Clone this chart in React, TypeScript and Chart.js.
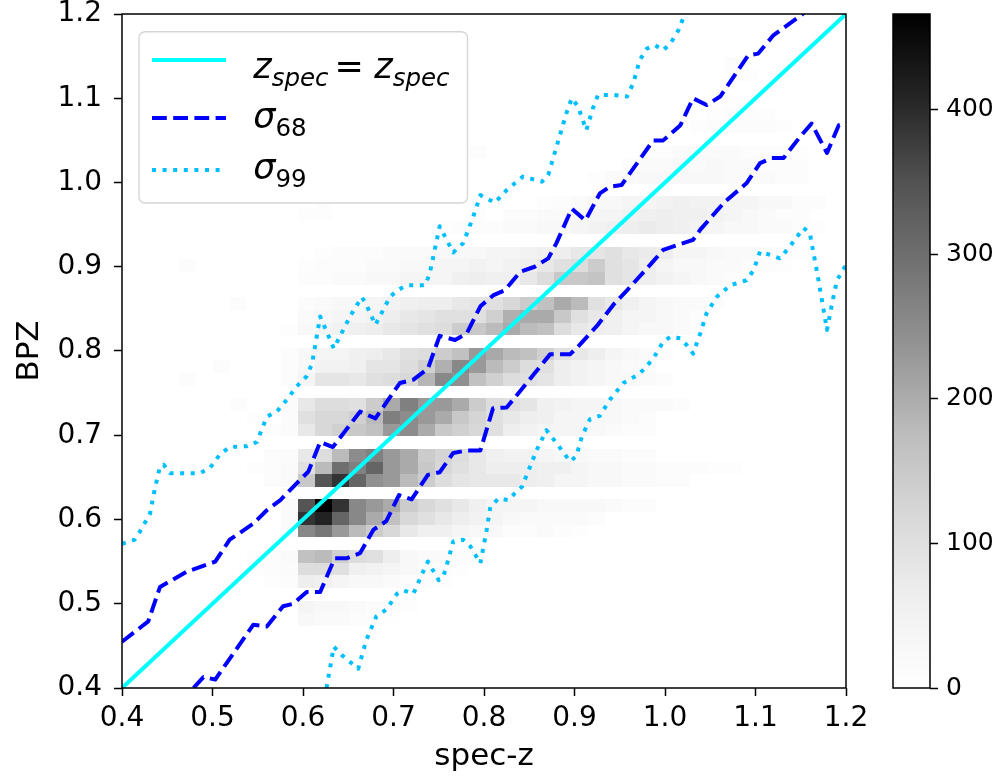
import React, { useEffect, useRef } from "react";
import { Chart, registerables } from "chart.js";

Chart.register(...registerables);

const FONT = '"DejaVu Sans", "Liberation Sans", sans-serif';

// ---------------- axis / tick data ----------------
const xTicks = [0.4, 0.5, 0.6, 0.7, 0.8, 0.9, 1.0, 1.1, 1.2];
const yTicks = [0.4, 0.5, 0.6, 0.7, 0.8, 0.9, 1.0, 1.1, 1.2];
const cbTicks = [0, 100, 200, 300, 400];
const xLabel = "spec-z";
const yLabel = "BPZ";

// ---------------- 2D histogram (counts) ----------------
// bin grid: first x edge, x bin width, first y edge, y bin height
const histX0 = 0.44424;
const histDX = 0.01882;
const histY0 = 0.4738;
const histDY = 0.015;
// rows from bottom (BPZ 0.474) to top; each row starts at the first x bin
const histRows: number[][] = [
  [0, 0, 0, 0, 0, 0, 0, 0, 27, 19, 19, 12, 8, 5],
  [0, 0, 0, 0, 0, 0, 0, 0, 39, 27, 27, 19, 12, 10, 8],
  [],
  [0, 0, 0, 0, 0, 0, 8, 10, 63, 58, 39, 27, 27, 19, 12, 10, 8],
  [0, 0, 0, 0, 0, 8, 10, 14, 106, 106, 99, 58, 50, 39, 27, 12, 10, 6],
  [0, 0, 0, 0, 0, 8, 12, 18, 167, 177, 135, 106, 99, 63, 27, 19, 19, 12, 8],
  [],
  [0, 0, 0, 0, 0, 0, 0, 15, 256, 284, 228, 177, 143, 118, 78, 58, 58, 39, 27, 27, 12, 12, 19, 10, 8],
  [0, 0, 0, 0, 0, 0, 0, 20, 389, 412, 316, 256, 203, 167, 118, 99, 78, 63, 50, 39, 27, 19, 19, 19, 19, 10],
  [0, 0, 0, 0, 0, 0, 0, 18, 344, 466, 389, 256, 228, 203, 143, 118, 99, 78, 58, 39, 39, 39, 27, 27, 27, 27, 19, 12, 10],
  [],
  [0, 0, 0, 0, 0, 0, 10, 20, 152, 344, 389, 316, 243, 228, 177, 143, 106, 86, 78, 78, 78, 63, 58, 39, 39, 27, 27, 19, 19, 12, 10],
  [0, 0, 0, 0, 0, 8, 12, 20, 99, 177, 298, 269, 316, 228, 203, 152, 118, 99, 78, 63, 63, 63, 58, 58, 39, 27, 27, 19, 19, 12, 12, 12, 8, 6],
  [0, 0, 0, 0, 0, 0, 10, 15, 78, 106, 177, 250, 269, 228, 203, 143, 125, 106, 78, 58, 50, 50, 39, 27, 27, 19, 19, 12, 10],
  [],
  [0, 0, 0, 0, 0, 0, 8, 15, 78, 118, 135, 152, 167, 228, 250, 203, 152, 135, 118, 99, 63, 50, 39, 39, 39, 27, 19, 12, 10],
  [0, 0, 0, 0, 0, 8, 0, 15, 99, 118, 118, 135, 177, 272, 250, 228, 203, 152, 125, 99, 78, 63, 58, 39, 39, 27, 27, 19, 12],
  [0, 0, 0, 0, 10, 0, 0, 15, 78, 106, 106, 99, 143, 203, 269, 228, 228, 203, 143, 106, 99, 86, 58, 50, 39, 39, 27, 19, 19, 19, 12],
  [],
  [0, 10, 0, 0, 0, 0, 0, 12, 39, 86, 86, 78, 99, 106, 118, 185, 256, 243, 167, 135, 106, 99, 86, 63, 50, 39, 27, 27, 19, 12],
  [0, 0, 0, 12, 0, 0, 0, 12, 27, 50, 50, 58, 86, 86, 106, 135, 194, 256, 228, 177, 143, 106, 99, 63, 50, 39, 27, 19, 12],
  [0, 0, 0, 0, 0, 0, 0, 10, 27, 39, 39, 58, 63, 78, 99, 106, 143, 167, 228, 205, 177, 167, 135, 99, 78, 63, 39, 27, 19, 12],
  [],
  [0, 0, 0, 0, 0, 0, 0, 8, 27, 39, 50, 58, 63, 78, 86, 99, 106, 143, 152, 177, 203, 177, 167, 106, 78, 63, 58, 39, 27, 27, 19, 12],
  [0, 0, 0, 0, 0, 0, 0, 0, 19, 27, 39, 39, 50, 63, 78, 86, 99, 99, 99, 135, 194, 203, 203, 152, 99, 78, 58, 39, 39, 27, 19, 12],
  [0, 0, 0, 0, 10, 0, 0, 0, 12, 19, 27, 27, 39, 50, 58, 63, 63, 78, 86, 99, 118, 143, 167, 203, 177, 99, 78, 58, 39, 27, 19, 19, 12],
  [],
  [0, 0, 0, 0, 0, 0, 0, 0, 12, 12, 19, 19, 27, 27, 39, 39, 39, 58, 63, 58, 58, 78, 106, 152, 152, 160, 99, 86, 63, 50, 39, 27, 19, 12],
  [0, 12, 0, 0, 0, 0, 0, 0, 8, 10, 12, 12, 19, 19, 27, 27, 39, 39, 50, 39, 50, 63, 78, 99, 106, 143, 99, 86, 63, 39, 27, 27, 19, 19, 12, 12, 8],
  [0, 0, 0, 0, 0, 0, 0, 0, 0, 8, 10, 12, 12, 19, 19, 19, 27, 27, 27, 39, 39, 50, 58, 63, 78, 86, 99, 78, 70, 63, 39, 39, 27, 19, 19, 12, 12, 8],
  [],
  [0, 0, 0, 0, 0, 0, 0, 0, 0, 0, 0, 0, 0, 0, 0, 0, 8, 10, 12, 12, 19, 19, 27, 27, 39, 50, 58, 63, 70, 63, 58, 50, 39, 27, 27, 19, 19, 12, 8],
  [0, 0, 0, 0, 0, 0, 0, 0, 8, 8, 0, 0, 0, 0, 0, 0, 0, 0, 8, 0, 10, 12, 19, 19, 27, 39, 39, 50, 58, 63, 58, 58, 50, 39, 27, 19, 12, 10],
  [0, 0, 0, 0, 0, 0, 0, 0, 0, 8, 0, 0, 0, 0, 0, 0, 0, 0, 0, 0, 0, 0, 8, 10, 19, 27, 27, 39, 39, 50, 58, 50, 50, 39, 39, 27, 27, 12, 10],
  [],
  [0, 0, 0, 0, 0, 0, 0, 0, 0, 0, 0, 0, 0, 0, 0, 0, 0, 0, 0, 0, 0, 0, 0, 0, 0, 8, 19, 19, 27, 27, 27, 27, 27, 19, 19, 19, 12, 10],
  [0, 0, 0, 0, 0, 0, 0, 0, 0, 0, 0, 0, 0, 0, 0, 0, 0, 0, 0, 0, 0, 0, 0, 0, 0, 0, 0, 12, 19, 19, 27, 19, 27, 19, 19, 12, 12, 10],
  [0, 0, 0, 0, 0, 0, 0, 0, 0, 0, 0, 0, 10, 0, 0, 0, 12, 0, 10, 0, 0, 0, 0, 0, 0, 0, 0, 0, 10, 12, 19, 19, 19, 19, 12, 12, 10, 8],
  [],
  [0, 0, 0, 0, 0, 0, 0, 0, 0, 0, 0, 10, 0, 0, 0, 0, 12, 0, 0, 0, 0, 0, 0, 0, 0, 0, 0, 0, 0, 0, 0, 8, 12, 12, 12, 10, 8],
  [0, 0, 0, 0, 0, 0, 0, 0, 0, 0, 0, 0, 0, 0, 0, 0, 0, 0, 0, 0, 0, 0, 0, 0, 0, 0, 0, 0, 0, 0, 0, 0, 8, 10, 10, 8],
  [0, 0, 0, 0, 0, 0, 0, 0, 0, 0, 0, 0, 0, 0, 0, 0, 10, 0, 0, 0, 0, 0, 0, 0, 0, 0, 0, 0, 0, 0, 0, 0, 0, 8, 8],
  [],
  [0, 0, 0, 0, 0, 0, 0, 0, 0, 0, 0, 0, 0, 0, 0, 0, 10, 8, 0, 0, 0, 0, 0, 0, 0, 0, 0, 0, 0, 0, 0, 0, 0, 8, 6],
  [0, 0, 0, 0, 0, 0, 0, 0, 0, 0, 0, 0, 0, 0, 0, 0, 0, 0, 0, 0, 0, 0, 0, 0, 0, 0, 0, 0, 0, 0, 0, 0, 0, 10],
];

// ---------------- line series ----------------
const diagX = [0.4, 1.2];
const diagY = [0.4, 1.2];

const sig68UpX = [0.400, 0.429, 0.442, 0.4715, 0.503, 0.519, 0.545, 0.560, 0.575, 0.593, 0.606, 0.619, 0.633, 0.663, 0.680, 0.707, 0.722, 0.738, 0.751, 0.768, 0.781, 0.796, 0.810, 0.823, 0.840, 0.856, 0.871, 0.880, 0.897, 0.912, 0.928, 0.939, 0.952, 0.987, 0.998, 1.017, 1.031, 1.046, 1.061, 1.092, 1.103, 1.120, 1.151, 1.175, 1.200];
const sig68UpY = [0.455, 0.479, 0.520, 0.538, 0.550, 0.576, 0.595, 0.611, 0.623, 0.643, 0.657, 0.692, 0.686, 0.728, 0.720, 0.762, 0.766, 0.779, 0.818, 0.813, 0.821, 0.853, 0.866, 0.872, 0.894, 0.900, 0.910, 0.928, 0.969, 0.955, 0.987, 0.995, 0.997, 1.050, 1.050, 1.068, 1.100, 1.092, 1.102, 1.151, 1.153, 1.175, 1.199, 1.225, 1.250];

const sig68LoX = [0.465, 0.479, 0.490, 0.503, 0.545, 0.560, 0.578, 0.589, 0.604, 0.619, 0.635, 0.648, 0.663, 0.678, 0.692, 0.706, 0.720, 0.738, 0.751, 0.766, 0.781, 0.796, 0.810, 0.825, 0.832, 0.873, 0.895, 0.902, 0.925, 0.943, 0.958, 0.985, 0.998, 1.031, 1.039, 1.066, 1.090, 1.105, 1.118, 1.131, 1.149, 1.162, 1.179, 1.192, 1.201];
const sig68LoY = [0.380, 0.400, 0.413, 0.410, 0.475, 0.473, 0.497, 0.500, 0.514, 0.514, 0.554, 0.554, 0.560, 0.588, 0.598, 0.629, 0.624, 0.653, 0.656, 0.679, 0.682, 0.682, 0.732, 0.733, 0.742, 0.796, 0.796, 0.803, 0.830, 0.855, 0.872, 0.904, 0.920, 0.932, 0.944, 0.977, 0.999, 1.023, 1.029, 1.029, 1.054, 1.070, 1.035, 1.068, 1.070];

const sig99UpX = [0.400, 0.414, 0.420, 0.431, 0.436, 0.442, 0.446, 0.453, 0.486, 0.497, 0.508, 0.519, 0.538, 0.549, 0.560, 0.571, 0.582, 0.593, 0.604, 0.610, 0.619, 0.634, 0.652, 0.665, 0.670, 0.680, 0.696, 0.704, 0.715, 0.735, 0.740, 0.751, 0.766, 0.777, 0.788, 0.796, 0.812, 0.825, 0.843, 0.864, 0.871, 0.877, 0.891, 0.897, 0.904, 0.913, 0.921, 0.926, 0.943, 0.958, 0.965, 0.972, 0.980, 0.989, 0.998, 1.006, 1.015, 1.020, 1.035];
const sig99UpY = [0.571, 0.576, 0.586, 0.607, 0.635, 0.663, 0.665, 0.655, 0.655, 0.661, 0.677, 0.686, 0.687, 0.692, 0.722, 0.728, 0.742, 0.758, 0.770, 0.785, 0.841, 0.803, 0.841, 0.864, 0.855, 0.831, 0.864, 0.872, 0.878, 0.878, 0.892, 0.948, 0.917, 0.928, 0.959, 0.985, 0.976, 0.991, 1.007, 1.001, 1.009, 1.031, 1.082, 1.100, 1.090, 1.062, 1.090, 1.104, 1.104, 1.102, 1.118, 1.145, 1.159, 1.163, 1.157, 1.165, 1.181, 1.195, 1.230];

const sig99LoX = [0.598, 0.605, 0.615, 0.626, 0.634, 0.643, 0.661, 0.670, 0.681, 0.692, 0.704, 0.711, 0.722, 0.731, 0.738, 0.750, 0.755, 0.761, 0.766, 0.777, 0.785, 0.796, 0.803, 0.807, 0.816, 0.827, 0.834, 0.842, 0.851, 0.858, 0.869, 0.882, 0.895, 0.902, 0.908, 0.917, 0.928, 0.939, 0.954, 0.972, 0.987, 0.998, 1.006, 1.017, 1.024, 1.031, 1.035, 1.039, 1.046, 1.057, 1.072, 1.090, 1.098, 1.105, 1.116, 1.127, 1.138, 1.153, 1.160, 1.169, 1.179, 1.184, 1.190, 1.201];
const sig99LoY = [0.370, 0.403, 0.370, 0.400, 0.449, 0.439, 0.423, 0.457, 0.485, 0.493, 0.512, 0.516, 0.512, 0.534, 0.550, 0.528, 0.532, 0.554, 0.574, 0.576, 0.568, 0.548, 0.588, 0.615, 0.625, 0.623, 0.631, 0.639, 0.663, 0.682, 0.706, 0.688, 0.669, 0.675, 0.698, 0.719, 0.723, 0.742, 0.762, 0.773, 0.791, 0.811, 0.817, 0.815, 0.807, 0.797, 0.809, 0.821, 0.845, 0.864, 0.878, 0.884, 0.896, 0.918, 0.914, 0.910, 0.924, 0.946, 0.940, 0.888, 0.825, 0.853, 0.884, 0.904];

// legend labels (mathtext-like parts: [text, kind]) kind: i=italic, s=subscript, op=operator
const legendLabels: [string, string][][] = [
  [["z", "i"], ["spec", "is"], ["=", "op"], ["z", "i"], ["spec", "is"]],
  [["σ", "i"], ["68", "s"]],
  [["σ", "i"], ["99", "s"]],
];

// ---------------- styling ----------------
const GREYS = [255, 240, 217, 189, 150, 115, 82, 37, 0];
function greyAt(t: number) {
  const tt = Math.max(0, Math.min(1, t));
  const p = tt * 8;
  const i = Math.min(7, Math.floor(p));
  const f = p - i;
  const g = Math.round(GREYS[i] + (GREYS[i + 1] - GREYS[i]) * f);
  return `rgb(${g},${g},${g})`;
}

const lineStyles = [
  { color: "#00ffff", dash: [] as number[], width: 4 },
  { color: "#0000ff", dash: [14.8, 6.4], width: 4 },
  { color: "#00bfff", dash: [4, 6.6], width: 4 },
];

function pts(xs: number[], ys: number[]) {
  return xs.map((x, i) => ({ x, y: ys[i] }));
}

function drawMath(ctx: CanvasRenderingContext2D, parts: [string, string][], x: number, base: number, F: number) {
  let cx = x;
  ctx.textBaseline = "alphabetic";
  ctx.textAlign = "left";
  ctx.fillStyle = "#000";
  for (const [t, kind] of parts) {
    if (kind === "op") {
      cx += 0.17 * F;
      ctx.font = `${F}px ${FONT}`;
      ctx.fillText(t, cx, base);
      cx += ctx.measureText(t).width + 0.3 * F;
      continue;
    }
    const sub = kind.includes("s");
    const it = kind.includes("i");
    const size = sub ? F * 0.7 : F;
    ctx.font = `${it ? "italic " : ""}${size}px ${FONT}`;
    ctx.fillText(t, cx, sub ? base + 0.22 * F : base);
    cx += ctx.measureText(t).width;
  }
}

export default function App() {
  const mainRef = useRef<HTMLCanvasElement>(null);
  const cbRef = useRef<HTMLCanvasElement>(null);

  useEffect(() => {
    const vmax = Math.max(...histRows.flat());

    const heatmapPlugin = {
      id: "heatmap",
      beforeDatasetsDraw(chart: any) {
        const { ctx, chartArea, scales } = chart;
        const xs = scales.x;
        const ys = scales.y;
        ctx.save();
        ctx.beginPath();
        ctx.rect(chartArea.left, chartArea.top, chartArea.right - chartArea.left, chartArea.bottom - chartArea.top);
        ctx.clip();
        histRows.forEach((row, r) => {
          const yb = histY0 + r * histDY;
          const py0 = Math.round(ys.getPixelForValue(yb + histDY));
          const py1 = Math.round(ys.getPixelForValue(yb));
          row.forEach((c, k) => {
            if (!c) return;
            const xb = histX0 + k * histDX;
            const px0 = Math.round(xs.getPixelForValue(xb));
            const px1 = Math.round(xs.getPixelForValue(xb + histDX));
            ctx.fillStyle = greyAt(c / vmax);
            ctx.fillRect(px0, py0, px1 - px0, py1 - py0);
          });
        });
        ctx.restore();
      },
      afterDatasetsDraw(chart: any) {
        const { ctx, chartArea } = chart;
        const { left, top, right, bottom } = chartArea;
        ctx.save();
        ctx.strokeStyle = "#000";
        ctx.lineWidth = 1.5;
        ctx.strokeRect(left, top, right - left, bottom - top);

        // legend
        const F = 35;
        const lx = left + 17, ly = top + 17.7, lw = 328.5, lh = 171.3, rad = 6;
        ctx.beginPath();
        ctx.moveTo(lx + rad, ly);
        ctx.arcTo(lx + lw, ly, lx + lw, ly + lh, rad);
        ctx.arcTo(lx + lw, ly + lh, lx, ly + lh, rad);
        ctx.arcTo(lx, ly + lh, lx, ly, rad);
        ctx.arcTo(lx, ly, lx + lw, ly, rad);
        ctx.closePath();
        ctx.fillStyle = "rgba(255,255,255,0.8)";
        ctx.fill();
        ctx.strokeStyle = "rgba(204,204,204,0.8)";
        ctx.lineWidth = 1.4;
        ctx.stroke();

        const handleY = [28.3, 86.3, 138.3];
        const textBase = [46.6, 96.6, 147.3];
        legendLabels.forEach((parts, i) => {
          const st = lineStyles[i];
          ctx.beginPath();
          ctx.setLineDash(st.dash);
          ctx.lineCap = "butt";
          ctx.strokeStyle = st.color;
          ctx.lineWidth = st.width;
          ctx.moveTo(lx + 13, ly + handleY[i]);
          ctx.lineTo(lx + 87, ly + handleY[i]);
          ctx.stroke();
          ctx.setLineDash([]);
          drawMath(ctx, parts, lx + 114.3, ly + textBase[i], F);
        });
        ctx.restore();
      },
    };

    const tickFont = { family: FONT, size: 28 };
    const titleFont = { family: FONT, size: 31 };

    const mkDs = (xs: number[], ys: number[], i: number, label: string) => ({
      label,
      data: pts(xs, ys),
      showLine: true,
      borderColor: lineStyles[i].color,
      backgroundColor: lineStyles[i].color,
      borderWidth: lineStyles[i].width,
      borderDash: lineStyles[i].dash,
      borderCapStyle: "butt",
      borderJoinStyle: "round",
      pointRadius: 0,
      pointHoverRadius: 0,
      tension: 0,
      fill: false,
    });

    const main = new Chart(mainRef.current as HTMLCanvasElement, {
      type: "scatter",
      data: {
        datasets: [
          mkDs(diagX, diagY, 0, "zspec = zspec"),
          mkDs(sig68UpX, sig68UpY, 1, "σ68"),
          mkDs(sig68LoX, sig68LoY, 1, "σ68 low"),
          mkDs(sig99UpX, sig99UpY, 2, "σ99"),
          mkDs(sig99LoX, sig99LoY, 2, "σ99 low"),
        ] as any,
      },
      options: {
        responsive: false,
        animation: false,
        devicePixelRatio: 1,
        layout: { padding: { left: 0, top: 14, right: 149, bottom: 0 } },
        plugins: { legend: { display: false }, tooltip: { enabled: false } },
        scales: {
          x: {
            type: "linear",
            min: 0.4,
            max: 1.2,
            afterBuildTicks: (s: any) => {
              s.ticks = xTicks.map((v) => ({ value: v }));
            },
            afterFit: (s: any) => {
              s.height = 96;
              s.paddingLeft = 0;
              s.paddingRight = 0;
            },
            ticks: {
              font: tickFont,
              color: "#000",
              padding: 6,
              maxRotation: 0,
              autoSkip: false,
              callback: (v: any) => Number(v).toFixed(1),
            },
            grid: { drawOnChartArea: false, drawTicks: true, tickLength: 8, tickWidth: 1.5, tickColor: "#000" },
            border: { display: false },
            title: { display: true, text: xLabel, font: titleFont, color: "#000", padding: { top: 0, bottom: 8 } },
          },
          y: {
            type: "linear",
            min: 0.4,
            max: 1.2,
            afterBuildTicks: (s: any) => {
              s.ticks = yTicks.map((v) => ({ value: v }));
            },
            afterFit: (s: any) => {
              s.width = 122;
              s.paddingTop = 0;
              s.paddingBottom = 0;
            },
            ticks: {
              font: tickFont,
              color: "#000",
              padding: 12,
              autoSkip: false,
              callback: (v: any) => Number(v).toFixed(1),
            },
            grid: { drawOnChartArea: false, drawTicks: true, tickLength: 8, tickWidth: 1.5, tickColor: "#000" },
            border: { display: false },
            title: { display: true, text: yLabel, font: titleFont, color: "#000", padding: { top: 11, bottom: 0 } },
          },
        },
      } as any,
      plugins: [heatmapPlugin],
    });

    const cbPlugin = {
      id: "colorbar",
      beforeDatasetsDraw(chart: any) {
        const { ctx, chartArea } = chart;
        const { left, top, right, bottom } = chartArea;
        const g = ctx.createLinearGradient(0, bottom, 0, top);
        GREYS.forEach((v, k) => g.addColorStop(k / 8, `rgb(${v},${v},${v})`));
        ctx.save();
        ctx.fillStyle = g;
        ctx.fillRect(left, top, right - left, bottom - top);
        ctx.strokeStyle = "#000";
        ctx.lineWidth = 1.5;
        ctx.strokeRect(left, top, right - left, bottom - top);
        ctx.restore();
      },
    };

    const cb = new Chart(cbRef.current as HTMLCanvasElement, {
      type: "scatter",
      data: { datasets: [] },
      options: {
        responsive: false,
        animation: false,
        devicePixelRatio: 1,
        layout: { padding: { left: 893, top: 14, right: 0, bottom: 96 } },
        plugins: { legend: { display: false }, tooltip: { enabled: false } },
        scales: {
          x: { display: false, min: 0, max: 1 },
          y: {
            type: "linear",
            position: "right",
            min: 0,
            max: vmax,
            afterBuildTicks: (s: any) => {
              s.ticks = cbTicks.map((v) => ({ value: v }));
            },
            afterFit: (s: any) => {
              s.width = 65;
              s.paddingTop = 0;
              s.paddingBottom = 0;
            },
            ticks: { font: { family: FONT, size: 25 }, color: "#000", padding: 8, autoSkip: false },
            grid: { drawOnChartArea: false, drawTicks: true, tickLength: 8, tickWidth: 1.5, tickColor: "#000" },
            border: { display: false },
          },
        },
      } as any,
      plugins: [cbPlugin],
    });

    return () => {
      main.destroy();
      cb.destroy();
    };
  }, []);

  return (
    <div style={{ position: "absolute", left: 0, top: 0, width: 995, height: 784, background: "#fff" }}>
      <canvas ref={mainRef} width={995} height={784} style={{ position: "absolute", left: 0, top: 0 }} />
      <canvas ref={cbRef} width={995} height={784} style={{ position: "absolute", left: 0, top: 0 }} />
    </div>
  );
}
